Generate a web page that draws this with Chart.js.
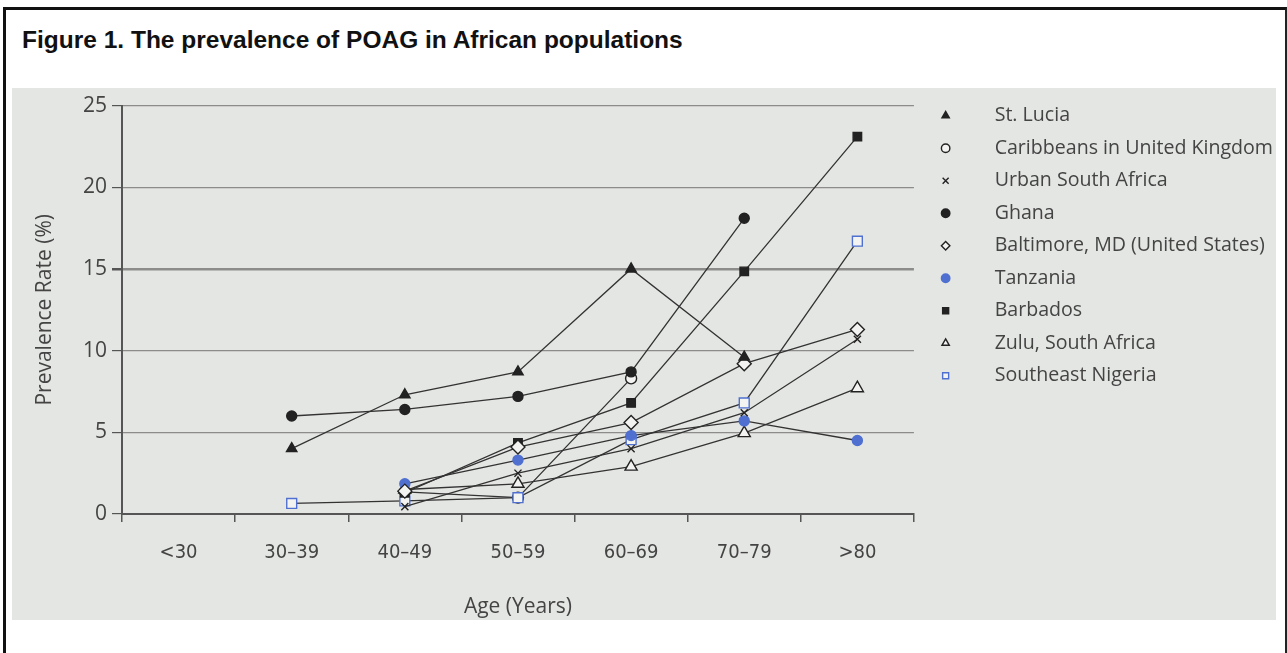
<!DOCTYPE html>
<html>
<head>
<meta charset="utf-8">
<script src="https://cdn.jsdelivr.net/npm/chart.js@4.4.1/dist/chart.umd.min.js"></script>
<style>
  html, body { margin: 0; padding: 0; background: #fff; }
  body { width: 1287px; height: 653px; position: relative; overflow: hidden; }
  #frame { position: absolute; left: 3px; top: 7px; width: 1279px; height: 660px;
           border-top: 3px solid #111; border-left: 3px solid #111; border-right: 2px solid #222; }
  #title { position: absolute; left: 22px; top: 26px; font: bold 24.5px "Liberation Sans", Arial, sans-serif;
           color: #111; white-space: nowrap; }
  #panel { position: absolute; left: 12px; top: 88px; width: 1264px; height: 532px; background: #e4e6e3; }
  #wrap { position: absolute; left: 12px; top: 88px; width: 1275px; height: 532px; }
</style>
</head>
<body>
<div id="frame"></div>
<div id="title">Figure 1. The prevalence of POAG in African populations</div>
<div id="panel"></div>
<div id="wrap"><canvas id="chart"></canvas></div>
<script>
// age groups on the x axis
const ageGroups = ['<30', '30–39', '40–49', '50–59', '60–69', '70–79', '>80'];
const yTicks = [0, 5, 10, 15, 20, 25];

// prevalence (%), null = no point
const stLucia     = [null, 4.0, 7.3, 8.7, 15.0, 9.6, null];
const caribbeanUK = [null, null, 1.35, 1.0, 8.3, null, null];
const urbanSA     = [null, null, 0.45, 2.5, 4.0, 6.2, 10.7];
const ghana       = [null, 6.0, 6.4, 7.2, 8.7, 18.1, null];
const baltimore   = [null, null, 1.4, 4.1, 5.6, 9.2, 11.3];
const tanzania    = [null, null, 1.85, 3.3, 4.8, 5.7, 4.5];
const barbados    = [null, null, 1.3, 4.35, 6.8, 14.85, 23.1];
const zulu        = [null, null, 1.5, 1.85, 2.9, 4.95, 7.7];
const seNigeria   = [null, 0.65, 0.8, 1.0, 4.55, 6.8, 16.7];

const ink = '#222';
const paper = '#f3f4f2';
const blue = '#4f70d0';
const textCol = '#444';

function series(label, data, pointStyle, fill, edge, radius, order = 0) {
  return {
    label, data, pointStyle, order,
    borderColor: '#333', borderWidth: 1.3, tension: 0,
    pointBackgroundColor: fill, pointBorderColor: edge,
    pointBorderWidth: 1.4, pointRadius: radius, pointHoverRadius: radius
  };
}

// Caribbeans sit underneath the others, as in the print
const datasets = [
  series('St. Lucia', stLucia, 'triangle', ink, ink, 6),
  series('Caribbeans in United Kingdom', caribbeanUK, 'circle', paper, ink, 5.5, 1),
  series('Urban South Africa', urbanSA, 'crossRot', ink, ink, 5),
  series('Ghana', ghana, 'circle', ink, ink, 5),
  series('Baltimore, MD (United States)', baltimore, 'rectRot', paper, ink, 7),
  series('Tanzania', tanzania, 'circle', blue, blue, 5),
  series('Barbados', barbados, 'rect', ink, ink, 6),
  series('Zulu, South Africa', zulu, 'triangle', paper, ink, 7),
  series('Southeast Nigeria', seNigeria, 'rect', paper, blue, 7)
];

// small shift so the legend sits where the printed one does
const legendNudge = {
  id: 'legendNudge',
  afterLayout(chart) {
    chart.legend.left += 9;
    chart.legend.top -= 4;
  }
};

new Chart(document.getElementById('chart'), {
  type: 'line',
  data: { labels: ageGroups, datasets },
  plugins: [legendNudge],
  options: {
    responsive: true,
    maintainAspectRatio: false,
    animation: false,
    layout: { padding: { top: 9, right: 13, bottom: 0, left: 0 } },
    plugins: {
      tooltip: { enabled: false },
      legend: {
        position: 'right',
        align: 'start',
        maxWidth: 420,
        labels: {
          usePointStyle: true,
          boxHeight: 6,
          padding: 12.9,
          color: textCol,
          font: { family: '"Open Sans", sans-serif', size: 19.6 },
          sort: (a, b) => a.datasetIndex - b.datasetIndex,
          generateLabels(chart) {
            return Chart.defaults.plugins.legend.labels.generateLabels(chart).map(item => {
              item.text = '\u2003\u2002' + item.text;
              return item;
            });
          }
        }
      }
    },
    scales: {
      x: {
        offset: true,
        afterFit(scale) { scale.height = 106; },
        border: { color: '#555', width: 2 },
        grid: { offset: true, drawOnChartArea: false, tickLength: 8, tickColor: '#555', lineWidth: 1.5 },
        ticks: { color: textCol, padding: 19, font: { family: '"Liberation Sans Narrow", "DejaVu Sans Condensed", Roboto, sans-serif', size: 20 } },
        title: {
          display: true, text: 'Age (Years)', color: textCol,
          font: { family: '"Open Sans", sans-serif', size: 21 },
          padding: { top: 0, bottom: 0.5 }
        }
      },
      y: {
        min: 0, max: 25,
        afterFit(scale) { scale.width = 110; },
        afterBuildTicks(scale) { scale.ticks = yTicks.map(v => ({ value: v })); },
        border: { color: '#555', width: 2 },
        grid: {
          color: c => c.tick.value === 0 ? '#555' : '#8c8d8b',
          lineWidth: c => c.tick.value === 15 ? 2.5 : 1.2,
          tickLength: 10,
          tickColor: '#555'
        },
        ticks: { color: textCol, padding: 5, font: { family: '"Open Sans", sans-serif', size: 21 } },
        title: {
          display: true, text: 'Prevalence Rate (%)', color: textCol,
          font: { family: '"Open Sans", sans-serif', size: 21 },
          padding: { top: 20, bottom: 0 }
        }
      }
    }
  }
});
</script>
</body>
</html>
